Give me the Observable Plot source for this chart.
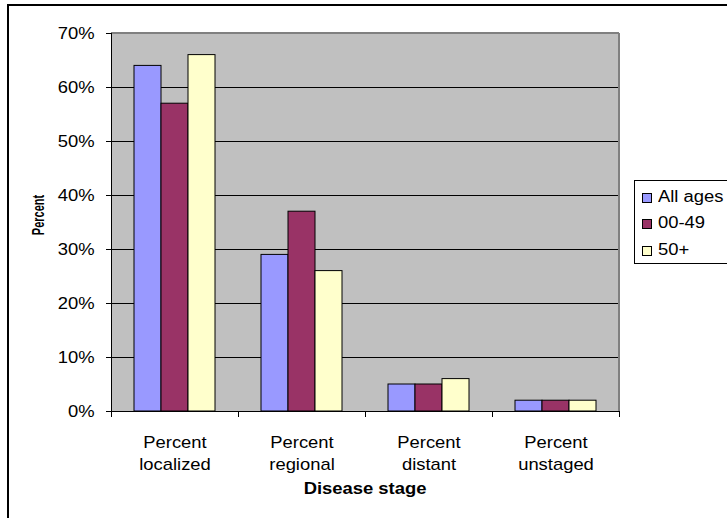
<!DOCTYPE html>
<html>
<head>
<meta charset="utf-8">
<script src="https://cdn.jsdelivr.net/npm/d3@7"></script>
<script src="https://cdn.jsdelivr.net/npm/@observablehq/plot@0.6"></script>
<style>
  html, body { margin: 0; padding: 0; background: #fff; overflow: hidden; }
  body { font-family: "Liberation Sans", Arial, sans-serif; color: #000; }
  #wrap { position: relative; width: 727px; height: 518px; overflow: hidden; }
  #outer { position: absolute; left: 7px; top: 4px; width: 760px; height: 560px;
           border-top: 2px solid #000; border-left: 2px solid #000; }
  #chart { position: absolute; left: 0; top: 0; }
  .title { position: absolute; font-weight: bold; white-space: nowrap; }
  #ytitle { left: 37.5px; top: 215px; font-size: 11px;
            transform: translate(-50%, -50%) rotate(-90deg) scaleY(1.45); }
  #xtitle { left: 364.5px; top: 480px; font-size: 16px;
            transform: translateX(-50%) scaleX(1.15); }
  #legend { position: absolute; left: 634px; top: 180px; width: 120px; height: 82px;
            border: 1px solid #000; background: #fff; }
  .item { position: absolute; left: 7px; height: 14px; white-space: nowrap; font-size: 16px; }
  .sw { position: absolute; left: 0; top: 0; width: 8px; height: 8px; border: 1px solid #000; }
  .lab { position: absolute; left: 16px; top: -5px; transform: scaleX(1.15); transform-origin: left center; }
</style>
</head>
<body>
<div id="wrap">
  <div id="outer"></div>
  <div id="chart"></div>
  <div class="title" id="ytitle">Percent</div>
  <div class="title" id="xtitle">Disease stage</div>
  <div id="legend"></div>
</div>
<script>
// Disease stage categories (x axis) and age groups (series)
const stages = ["Percent\nlocalized", "Percent\nregional", "Percent\ndistant", "Percent\nunstaged"];
const groups = ["All ages", "00-49", "50+"];

// Percent of cases at each stage, one array per age group
const allAges   = [64, 29, 5, 2];
const age00to49 = [57, 37, 5, 2];
const age50plus = [66, 26, 6, 2];

// Y axis ticks (percent)
const yTicks = [0, 10, 20, 30, 40, 50, 60, 70];

// Series fill colours
const colors = ["#9999ff", "#993366", "#ffffcc"];

const rows = [];
[allAges, age00to49, age50plus].forEach((vals, g) =>
  vals.forEach((v, i) => rows.push({stage: stages[i], group: groups[g], value: v}))
);

const W = 727, H = 518;
const mL = 110, mR = 108, mT = 33, mB = 107;

const plot = Plot.plot({
  width: W,
  height: H,
  marginLeft: mL,
  marginRight: mR,
  marginTop: mT,
  marginBottom: mB,
  style: {
    fontFamily: "'Liberation Sans', Arial, sans-serif",
    fontSize: "16px",
    color: "#000",
    background: "transparent",
    overflow: "visible"
  },
  fx: {domain: stages, padding: 0, label: null},
  x: {domain: groups, paddingInner: 0, paddingOuter: 0.77, axis: null},
  y: {domain: [0, 70], label: null},
  color: {domain: groups, range: colors},
  marks: [
    Plot.frame({fill: "#c0c0c0", stroke: "#c0c0c0"}),
    Plot.gridY(yTicks, {stroke: "#000", strokeOpacity: 1, strokeWidth: 1}),
    Plot.barY(rows, {fx: "stage", x: "group", y: "value", fill: "group", stroke: "#000", strokeWidth: 1}),
    Plot.ruleY([0], {stroke: "#000", strokeWidth: 1}),
    Plot.axisY(yTicks, {tickSize: 5, tickPadding: 12, tickFormat: d => d + "%", label: null, stroke: "#000"}),
    Plot.axisFx({anchor: "bottom", tickSize: 0, tickPadding: 21, lineHeight: 1.375, label: null})
  ]
});

document.getElementById("chart").appendChild(plot);

// Plot-area border and category separator ticks, placed with the plot's own scales
const svg = d3.select(plot);
const fx = plot.scale("fx");
const y = plot.scale("y");
const bw = fx.bandwidth;
const left = fx.apply(stages[0]);
const right = fx.apply(stages[stages.length - 1]) + bw;
const y0 = y.apply(0), yTop = y.apply(70);
const g = svg.append("g").attr("shape-rendering", "crispEdges");
g.append("line").attr("x1", left).attr("x2", right).attr("y1", yTop).attr("y2", yTop)
  .attr("stroke", "#808080").attr("stroke-width", 2);
g.append("line").attr("x1", right).attr("x2", right).attr("y1", yTop).attr("y2", y0)
  .attr("stroke", "#808080").attr("stroke-width", 2);
g.append("line").attr("x1", left).attr("x2", left).attr("y1", yTop).attr("y2", y0 + 6)
  .attr("stroke", "#000").attr("stroke-width", 1);
g.append("line").attr("x1", left).attr("x2", right).attr("y1", y0).attr("y2", y0)
  .attr("stroke", "#000").attr("stroke-width", 1);
const bounds = stages.map(s => fx.apply(s) + bw);
g.selectAll(".sep").data(bounds).join("line")
  .attr("x1", d => d).attr("x2", d => d).attr("y1", y0).attr("y2", y0 + 6)
  .attr("stroke", "#000").attr("stroke-width", 1);

// Widen the tick labels horizontally around their anchor points
const sx = 1.15;
svg.selectAll("text").each(function() {
  const t = d3.select(this);
  const tr = t.attr("transform") || "";
  const xa = t.attr("x");
  if (xa != null && isFinite(+xa) && +xa !== 0) t.attr("x", +xa / sx);
  t.attr("transform", `${tr} scale(${sx},1)`);
});

// Legend
const legend = d3.select("#legend");
const tops = [12, 38, 65];
groups.forEach((name, i) => {
  const it = legend.append("div").attr("class", "item").style("top", tops[i] + "px");
  it.append("div").attr("class", "sw").style("background", colors[i]);
  it.append("div").attr("class", "lab").text(name);
});
</script>
</body>
</html>
